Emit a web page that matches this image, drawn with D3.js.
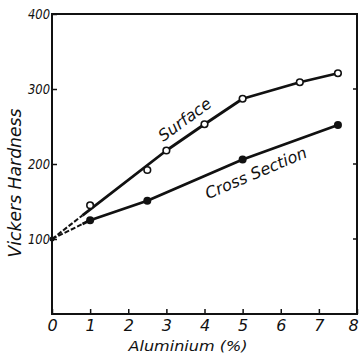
<!DOCTYPE html>
<meta charset="utf-8">
<style>
    body { margin: 0; background: #fff; }
    text { font-family: "DejaVu Sans", sans-serif; font-style: italic; fill: #111; }
</style>
<body>
<script src="https://cdn.jsdelivr.net/npm/d3@7"></script>
<script>

    var width = 359;
    var height = 354;

    // data
    var surfaceX = [0, 1, 2.5, 3, 4, 5, 6.5, 7.5];
    var surfaceY = [100, 145, 192, 218, 253, 287, 309, 321];
    // the drawn surface curve skips the 1 and 2.5 points
    var surfaceLineX = [0, 3, 4, 5, 6.5, 7.5];
    var surfaceLineY = [100, 218, 253, 287, 309, 321];

    var crossX = [0, 1, 2.5, 5, 7.5];
    var crossY = [100, 125, 151, 206, 252];

    var xTicks = [0, 1, 2, 3, 4, 5, 6, 7, 8];
    var yTicks = [100, 200, 300, 400];

    var svg = d3.select("body").append("svg")
        .attr("width", width)
        .attr("height", height);

    var x = d3.scaleLinear().domain([0, 8]).range([52, 357]);
    var y = d3.scaleLinear().domain([0, 400]).range([314, 14]);

    /////////////////////////////////
    // FRAME + AXES
    /////////////////////////////////

    svg.append("rect")
        .attr("x", x(0))
        .attr("y", y(400))
        .attr("width", x(8) - x(0))
        .attr("height", y(0) - y(400))
        .style("fill", "none")
        .style("stroke", "#111")
        .style("stroke-width", 2);

    var xAxis = svg.append("g")
        .attr("transform", "translate(0," + y(0) + ")")
        .call(d3.axisBottom(x).tickValues(xTicks).tickSizeInner(-5).tickSizeOuter(0).tickPadding(6));
    xAxis.select(".domain").remove();
    xAxis.selectAll("line").style("stroke", "#111").style("stroke-width", 1.5);
    xAxis.selectAll("text")
        .style("font-size", "16px")
        .style("font-family", "DejaVu Sans")
        .attr("fill", "#111")
        .attr("dx", function (d) { return d === 8 ? -4 : 0; });

    var yAxis = svg.append("g")
        .attr("transform", "translate(" + x(0) + ",0)")
        .call(d3.axisLeft(y).tickValues(yTicks).tickSizeInner(-5).tickSizeOuter(0).tickPadding(2));
    yAxis.select(".domain").remove();
    yAxis.selectAll("line").style("stroke", "#111").style("stroke-width", 1.5);
    yAxis.selectAll("text")
        .style("font-size", "14px")
        .attr("textLength", 22)
        .attr("lengthAdjust", "spacingAndGlyphs")
        .attr("fill", "#111");

    // small marks on the right border
    svg.selectAll("line.rtick")
        .data([100, 200, 300])
        .enter()
        .append("line")
        .attr("class", "rtick")
        .attr("x1", x(8) - 4)
        .attr("x2", x(8))
        .attr("y1", function (d) { return y(d); })
        .attr("y2", function (d) { return y(d); })
        .style("stroke", "#111")
        .style("stroke-width", 1.5);

    /////////////////////////////////
    // LINES
    /////////////////////////////////

    var line = d3.line()
        .x(function (d) { return x(d[0]); })
        .y(function (d) { return y(d[1]); });

    var surfacePts = surfaceLineX.map(function (v, i) { return [v, surfaceLineY[i]]; });
    var crossPts = crossX.map(function (v, i) { return [v, crossY[i]]; });

    function drawLine(pts, splitAt) {
        // faint dashed start near the origin, solid after
        var start = pts[0], next = pts[1];
        var t = splitAt / (next[0] - start[0]);
        var mid = [start[0] + (next[0] - start[0]) * t, start[1] + (next[1] - start[1]) * t];
        svg.append("path")
            .attr("d", line([start, mid]))
            .style("fill", "none")
            .style("stroke", "#111")
            .style("stroke-width", 2)
            .style("stroke-dasharray", "5,2");
        svg.append("path")
            .attr("d", line([mid].concat(pts.slice(1))))
            .style("fill", "none")
            .style("stroke", "#111")
            .style("stroke-width", 2.8)
            .style("stroke-linejoin", "round");
    }

    drawLine(surfacePts, 0.8);
    drawLine(crossPts, 0.8);

    /////////////////////////////////
    // MARKERS
    /////////////////////////////////

    svg.selectAll("circle.surface")
        .data(surfaceX.map(function (v, i) { return [v, surfaceY[i]]; }).slice(1))
        .enter()
        .append("circle")
        .attr("class", "surface")
        .attr("cx", function (d) { return x(d[0]); })
        .attr("cy", function (d) { return y(d[1]); })
        .attr("r", 3.3)
        .style("fill", "#fff")
        .style("stroke", "#111")
        .style("stroke-width", 1.6);

    svg.selectAll("circle.cross")
        .data(crossPts.slice(1))
        .enter()
        .append("circle")
        .attr("class", "cross")
        .attr("cx", function (d) { return x(d[0]); })
        .attr("cy", function (d) { return y(d[1]); })
        .attr("r", 4)
        .style("fill", "#111");

    svg.append("circle")
        .attr("cx", x(0))
        .attr("cy", y(100))
        .attr("r", 2.5)
        .style("fill", "#111");

    /////////////////////////////////
    // LABELS
    /////////////////////////////////

    svg.append("text")
        .attr("transform", "translate(188,124) rotate(-36)")
        .attr("text-anchor", "middle")
        .style("font-size", "16px")
        .text("Surface");

    svg.append("text")
        .attr("transform", "translate(258,178) rotate(-23)")
        .attr("text-anchor", "middle")
        .style("font-size", "16px")
        .text("Cross Section");

    svg.append("text")
        .attr("x", 188)
        .attr("y", 351)
        .attr("text-anchor", "middle")
        .style("font-size", "14px")
        .attr("textLength", 119)
        .attr("lengthAdjust", "spacingAndGlyphs")
        .text("Aluminium (%)");

    svg.append("text")
        .attr("transform", "translate(21,183) rotate(-90)")
        .attr("text-anchor", "middle")
        .style("font-size", "17px")
        .attr("textLength", 149)
        .attr("lengthAdjust", "spacingAndGlyphs")
        .text("Vickers Hardness");

</script>
</body>
